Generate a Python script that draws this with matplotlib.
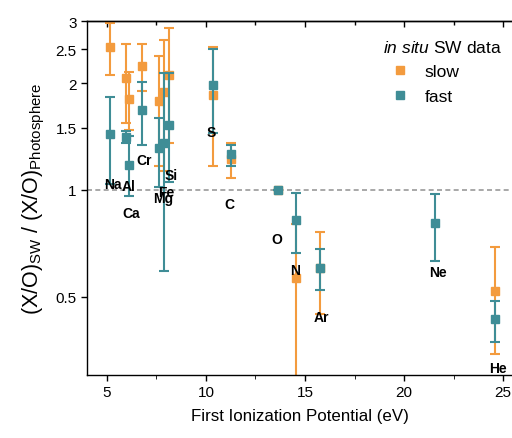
import numpy as np
import matplotlib
matplotlib.use("Agg")
import matplotlib.pyplot as plt
from matplotlib.lines import Line2D
from matplotlib.ticker import FixedLocator, NullFormatter, NullLocator

plt.rcParams["font.family"] = ["Liberation Sans", "DejaVu Sans"]
plt.rcParams["mathtext.fontset"] = "custom"
plt.rcParams["mathtext.rm"] = "Liberation Sans"
plt.rcParams["mathtext.it"] = "Liberation Sans:italic"

# first ionization potentials (eV)
slow_elem = ["Na", "Al", "Ca", "Cr", "Mg", "Fe", "Si", "S", "C", "O", "N", "Ar", "He"]
slow_fip = [5.14, 5.99, 6.11, 6.77, 7.65, 7.90, 8.15, 10.36, 11.26, 13.62, 14.53, 15.76, 24.59]
slow_val = [2.54, 2.07, 1.81, 2.24, 1.78, 1.89, 2.11, 1.85, 1.22, 1.0, 0.564, 0.60, 0.517]
slow_lo = [2.11, 1.55, 1.48, 1.90, 1.17, 1.13, 1.36, 1.17, 1.08, 1.0, 0.20, 0.447, 0.345]
slow_hi = [2.96, 2.58, 2.15, 2.58, 2.39, 2.65, 2.87, 2.54, 1.36, 1.0, 0.80, 0.76, 0.689]

fast_elem = ["Na", "Al", "Ca", "Cr", "Mg", "Fe", "Si", "S", "C", "O", "N", "Ar", "Ne", "He"]
fast_fip = [5.14, 5.99, 6.11, 6.77, 7.65, 7.90, 8.15, 10.36, 11.26, 13.62, 14.53, 15.76, 21.56, 24.59]
fast_val = [1.44, 1.41, 1.18, 1.68, 1.31, 1.36, 1.53, 1.98, 1.26, 1.0, 0.82, 0.60, 0.805, 0.431]
fast_lo = [1.04, 1.36, 0.96, 1.34, 1.02, 0.59, 1.05, 1.45, 1.17, 1.0, 0.664, 0.52, 0.632, 0.372]
fast_hi = [1.83, 1.47, 1.42, 2.02, 1.60, 2.14, 2.14, 2.50, 1.34, 1.0, 0.98, 0.68, 0.974, 0.487]

# element label placement (x in eV, y in ratio)
label_names = ["Na", "Al", "Ca", "Cr", "Si", "Fe", "Mg", "S", "C", "O", "N", "Ar", "Ne", "He"]
label_x = [5.32, 6.08, 6.23, 6.89, 8.25, 8.0, 7.85, 10.28, 11.19, 13.57, 14.48, 15.84, 21.72, 24.75]
label_y = [1.04, 1.026, 0.861, 1.215, 1.10, 0.987, 0.949, 1.457, 0.913, 0.727, 0.595, 0.438, 0.587, 0.313]

orange = "#F39B3E"
teal = "#3F8D96"

fig = plt.figure(figsize=(5.12, 4.39), dpi=100)
ax = fig.add_axes([0.170, 0.1435, 0.832, 0.806])

ax.axhline(1.0, color="#999999", ls=(0, (3, 2)), lw=1.2, zorder=1)

sv = np.array(slow_val)
ax.errorbar(slow_fip, sv, yerr=[sv - np.array(slow_lo), np.array(slow_hi) - sv],
            fmt="s", color=orange, ms=6, elinewidth=1.5, capsize=3.5, capthick=1.5,
            zorder=2)
fv = np.array(fast_val)
ax.errorbar(fast_fip, fv, yerr=[fv - np.array(fast_lo), np.array(fast_hi) - fv],
            fmt="s", color=teal, ms=6, elinewidth=1.5, capsize=3.5, capthick=1.5,
            zorder=3)

for name, lx, ly in zip(label_names, label_x, label_y):
    ax.text(lx, ly, name, fontsize=10, fontweight="bold", ha="center", va="center", zorder=4)

ax.set_yscale("log")
ax.set_xlim(4, 25.5)
ax.set_ylim(0.3, 3)
yt = [0.5, 1, 1.5, 2, 2.5, 3]
ax.yaxis.set_major_locator(FixedLocator(yt))
ax.yaxis.set_minor_locator(NullLocator())
ax.yaxis.set_minor_formatter(NullFormatter())
ax.set_yticklabels(["0.5", "1", "1.5", "2", "2.5", "3"])
ax.set_xticks([5, 10, 15, 20, 25])
ax.set_xticks([7.5, 12.5, 17.5, 22.5], minor=True)
ax.tick_params(axis="both", labelsize=11, direction="out", length=4, width=1)
ax.tick_params(axis="x", which="minor", length=3)
ax.spines["right"].set_visible(False)
for s in ["left", "bottom", "top"]:
    ax.spines[s].set_linewidth(1.0)

# top axis ticks point inward
top = ax.secondary_xaxis("top")
top.set_xticks([5, 10, 15, 20, 25])
top.set_xticks([7.5, 12.5, 17.5, 22.5], minor=True)
top.tick_params(which="both", direction="in", labeltop=False, length=4, width=1)
top.tick_params(which="minor", length=3)
top.spines["top"].set_linewidth(1.0)

ax.set_xlabel("First Ionization Potential (eV)", fontsize=12.2, labelpad=6)
ax.set_ylabel(r"(X/O)$_{\mathrm{SW}}$ / (X/O)$_{\mathrm{Photosphere}}$", fontsize=15.5, labelpad=6)

handles = [
    Line2D([], [], marker="s", ls="none", color=orange, ms=6, label="slow"),
    Line2D([], [], marker="s", ls="none", color=teal, ms=6, label="fast"),
]
leg = ax.legend(handles=handles, title=r"$\mathit{in\ situ}$ SW data", loc="upper right",
                bbox_to_anchor=(1.01, 0.995), frameon=False, fontsize=12.5,
                title_fontsize=12.5, handletextpad=0.4, handlelength=2.0,
                labelspacing=0.55, alignment="left")

fig.savefig("out.png", dpi=100)
